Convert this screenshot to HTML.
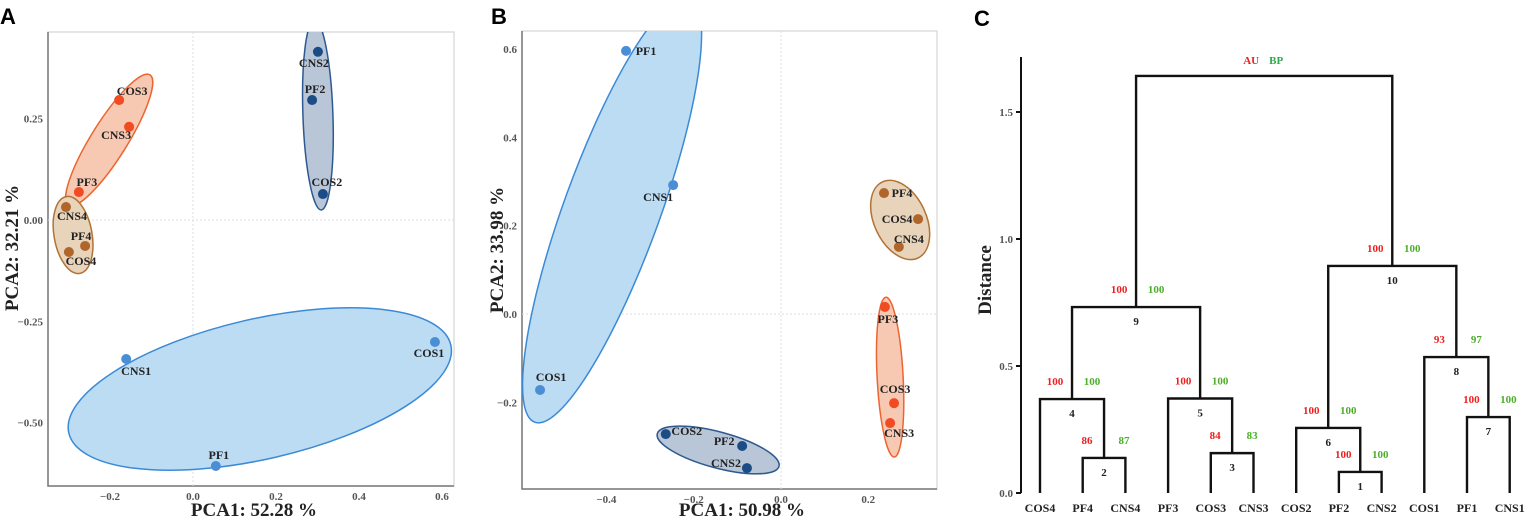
<!DOCTYPE html>
<html><head><meta charset="utf-8"><style>
html,body{margin:0;padding:0;background:#fff;}
svg{display:block;font-family:"Liberation Serif",serif;}
.tick{font-size:11px;font-weight:bold;fill:#555;}
.ptl{font-size:12px;font-weight:bold;fill:#222;}
.ttl{font-size:19px;font-weight:bold;fill:#222;}
.pan{font-family:"Liberation Sans",sans-serif;font-size:22px;font-weight:bold;fill:#000;}
</style></head><body>
<svg id="fig" width="1536" height="529" viewBox="0 0 1536 529">
<defs>
<clipPath id="clipA"><rect x="48" y="32" width="406" height="454"/></clipPath>
<clipPath id="clipB"><rect x="522" y="31" width="415" height="458"/></clipPath>
</defs>
<text class="pan" x="0" y="24">A</text>
<text class="pan" x="491" y="24">B</text>
<text class="pan" x="974" y="26">C</text>
<g id="pa"></g>
<g id="pb"></g>
<g id="pc"></g>
</svg>
<script>
// ---- Panel A data ----
const aNames = ["CNS2","PF2","COS2","COS3","CNS3","PF3","CNS4","PF4","COS4","CNS1","COS1","PF1"];
const aX = [0.301,0.287,0.313,-0.178,-0.154,-0.275,-0.306,-0.260,-0.299,-0.161,0.583,0.055];
const aY = [0.415,0.296,0.064,0.296,0.230,0.069,0.032,-0.064,-0.079,-0.343,-0.301,-0.607];
const aGroup = [2,2,2,3,3,3,4,4,4,1,1,1];
const aXTicks = [-0.2,0.0,0.2,0.4,0.6];
const aXTickLabels = ["\u22120.2","0.0","0.2","0.4","0.6"];
const aYTicks = [0.25,0,-0.25,-0.5];
const aYTickLabels = ["0.25","0.00","\u22120.25","\u22120.50"];
// ---- Panel B data ----
const bNames = ["PF1","CNS1","COS1","COS2","PF2","CNS2","PF4","COS4","CNS4","PF3","COS3","CNS3"];
const bX = [-0.355,-0.247,-0.552,-0.264,-0.089,-0.078,0.236,0.314,0.270,0.238,0.259,0.250];
const bY = [0.596,0.292,-0.172,-0.272,-0.299,-0.349,0.274,0.215,0.152,0.016,-0.202,-0.247];
const bGroup = [1,1,1,2,2,2,4,4,4,3,3,3];
const bXTicks = [-0.4,-0.2,0.0,0.2];
const bXTickLabels = ["\u22120.4","\u22120.2","0.0","0.2"];
const bYTicks = [0.6,0.4,0.2,0.0,-0.2];
const bYTickLabels = ["0.6","0.4","0.2","0.0","\u22120.2"];
// ---- Panel C data ----
const leaves = ["COS4","PF4","CNS4","PF3","COS3","CNS3","COS2","PF2","CNS2","COS1","PF1","CNS1"];
const mergeId = [1,2,3,6,4,5,7,8,9,10,11];
const mergeLeft = [7,1,4,6,0,3,10,9,"n4","n6","n9"];
const mergeRight = [8,2,5,"n1","n2","n3",11,"n7","n5","n8","n10"];
const mergeHeight = [0.083,0.138,0.157,0.256,0.37,0.372,0.299,0.535,0.732,0.894,1.642];
const mergeAU = ["100","86","84","100","100","100","100","93","100","100",""];
const mergeBP = ["100","87","83","100","100","100","100","97","100","100",""];
const cYTicks = [0.0,0.5,1.0,1.5];
const cYTickLabels = ["0.0","0.5","1.0","1.5"];

const NS="http://www.w3.org/2000/svg";
function mk(tag,attrs,parent){const e=document.createElementNS(NS,tag);for(const k in attrs)e.setAttribute(k,attrs[k]);parent.appendChild(e);return e;}
const colors={1:{pt:"#4a8fd6",fill:"#bcdcf3",st:"#3b8ad6"},2:{pt:"#1b4c85",fill:"#b8c6d8",st:"#2d5990"},3:{pt:"#f04b23",fill:"#f8c9b2",st:"#ec6530"},4:{pt:"#b0652a",fill:"#e8d3bb",st:"#b27234"}};

function scatter(g,cfg){
  const sx=v=>cfg.x0+v*cfg.kx, sy=v=>cfg.y0-v*cfg.ky;
  const bx=cfg.box;
  const frame=mk("rect",{x:bx[0],y:bx[1],width:bx[2],height:bx[3],fill:"none",stroke:"#d4d4d4","stroke-width":1.2},g);
  
  
  const axl=mk("path",{d:`M${bx[0]},${bx[1]}V${bx[1]+bx[3]}H${bx[0]+bx[2]}`,fill:"none",stroke:"#777","stroke-width":1.5},g);
  
  
  const gx=mk("line",{x1:sx(0),x2:sx(0),y1:bx[1],y2:bx[1]+bx[3],stroke:"#ddd","stroke-dasharray":"2,2"},g);
  
  
  const gy=mk("line",{x1:bx[0],x2:bx[0]+bx[2],y1:sy(0),y2:sy(0),stroke:"#ddd","stroke-dasharray":"2,2"},g);
  
  
  cfg.xt.forEach((v,i)=>{const t=mk("text",{x:sx(v),y:bx[1]+bx[3]+14,class:"tick","text-anchor":"middle"},g);t.textContent=cfg.xtl[i];
    
    });
  cfg.yt.forEach((v,i)=>{const t=mk("text",{x:bx[0]-5,y:sy(v)+4,class:"tick","text-anchor":"end"},g);t.textContent=cfg.ytl[i];
    
    });
  const eg=mk("g",{"clip-path":`url(#${cfg.clip})`},g);
  cfg.ell.forEach(e=>{const el=mk("ellipse",{cx:0,cy:0,rx:e[2],ry:e[3],fill:colors[e[5]].fill,stroke:colors[e[5]].st,"stroke-width":1.5,transform:`translate(${sx(e[0])},${sy(e[1])}) rotate(${e[4]})`},eg);
    
    });
  cfg.names.forEach((n,i)=>{
    const c=mk("circle",{cx:sx(cfg.xs[i]),cy:sy(cfg.ys[i]),r:5,fill:colors[cfg.grp[i]].pt},g);
    
    
    const t=mk("text",{x:sx(cfg.xs[i])+cfg.ldx[i],y:sy(cfg.ys[i])+cfg.ldy[i]+4,class:"ptl","text-anchor":"middle"},g);t.textContent=n;
    
    
  });
  const xt=mk("text",{x:cfg.xlab[0],y:cfg.xlab[1],class:"ttl","text-anchor":"middle"},g);xt.textContent=cfg.xtitle;
  
  
  const yt=mk("text",{x:0,y:0,class:"ttl","text-anchor":"middle",transform:`translate(${cfg.ylab[0]},${cfg.ylab[1]}) rotate(-90)`},g);yt.textContent=cfg.ytitle;
  
  
}
scatter(document.getElementById("pa"),{x0:193,kx:415,y0:220,ky:405.3,box:[48,32,406,454],clip:"clipA",
  xt:aXTicks,xtl:aXTickLabels,yt:aYTicks,ytl:aYTickLabels,names:aNames,xs:aX,ys:aY,grp:aGroup,
  ldx:[-4,3,4,13,-13,8,6,-4,12,10,-6,3],ldy:[11,-11,-12,-9,8,-10,9,-10,9,12,11,-11],
  ell:[[0.161,-0.417,196,70,-13,1],[0.301,0.259,15,95,-2,2],[-0.202,0.197,18,77,32,3],[-0.289,-0.037,19,39,-10,4]],
  xlab:[254,516],xtitle:"PCA1: 52.28 %",ylab:[18,248],ytitle:"PCA2: 32.21 %"});
scatter(document.getElementById("pb"),{x0:781,kx:436.5,y0:314,ky:441.5,box:[522,31,415,458],clip:"clipB",
  xt:bXTicks,xtl:bXTickLabels,yt:bYTicks,ytl:bYTickLabels,names:bNames,xs:bX,ys:bY,grp:bGroup,
  ldx:[20,-15,11,21,-18,-21,18,-21,10,3,1,9],ldy:[0,12,-13,-3,-5,-5,0,0,-8,12,-14,10],
  ell:[[-0.387,0.236,48,226,20,1],[-0.144,-0.308,63,18,15,2],[0.273,0.213,26,42,-25,4],[0.250,-0.143,13,80,-3,3]],
  xlab:[742,516],xtitle:"PCA1: 50.98 %",ylab:[503,250],ytitle:"PCA2: 33.98 %"});

// ---- Dendrogram ----
(function(){
  const g=document.getElementById("pc");
  const ax=1021, y0=493, ky=254, lx0=1040, lstep=42.7;
  const sy=v=>y0-v*ky;
  const axis=mk("line",{x1:ax,x2:ax,y1:57,y2:493,stroke:"#111","stroke-width":2},g);
  
  
  cYTicks.forEach((v,i)=>{
    const l=mk("line",{x1:ax-5,x2:ax,y1:sy(v),y2:sy(v),stroke:"#111","stroke-width":2},g);
    
    
    const t=mk("text",{x:ax-8,y:sy(v)+4,class:"tick","text-anchor":"end"},g);t.textContent=cYTickLabels[i];
    
    });
  const yt=mk("text",{x:0,y:0,class:"ttl","text-anchor":"middle",transform:"translate(991,280) rotate(-90)"},g);yt.textContent="Distance";
  
  
  const pos={};
  leaves.forEach((n,i)=>{pos[i]={x:lx0+i*lstep,h:0};
    const t=mk("text",{x:lx0+i*lstep,y:512,class:"ptl","text-anchor":"middle"},g);t.textContent=n;
    
    });
  mergeId.forEach((id,i)=>{
    const L=pos[mergeLeft[i]], R=pos[mergeRight[i]], h=mergeHeight[i];
    const x=(L.x+R.x)/2, y=sy(h);
    const p=mk("path",{d:`M${L.x},${sy(L.h)}V${y}H${R.x}V${sy(R.h)}`,fill:"none",stroke:"#111","stroke-width":2.4},g);
    
    
    pos["n"+id]={x:x,h:h};
    if(mergeAU[i]){
      const a=mk("text",{x:x-17,y:y-14,class:"ptl","text-anchor":"middle",style:"fill:#f01e1e;font-size:11px"},g);a.textContent=mergeAU[i];
      
      
      const b=mk("text",{x:x+20,y:y-14,class:"ptl","text-anchor":"middle",style:"fill:#4caf2a;font-size:11px"},g);b.textContent=mergeBP[i];
      
      
      const n=mk("text",{x:x,y:y+18,class:"ptl","text-anchor":"middle",style:"font-size:11px"},g);n.textContent=id;
      
      
    } else {
      const a=mk("text",{x:x-13,y:y-12,class:"ptl","text-anchor":"middle",style:"fill:#f01e1e;font-size:11px"},g);a.textContent="AU";
      
      
      const b=mk("text",{x:x+12,y:y-12,class:"ptl","text-anchor":"middle",style:"fill:#2eaa4a;font-size:11px"},g);b.textContent="BP";
      
      
    }
  });
})();
</script>
</body></html>
